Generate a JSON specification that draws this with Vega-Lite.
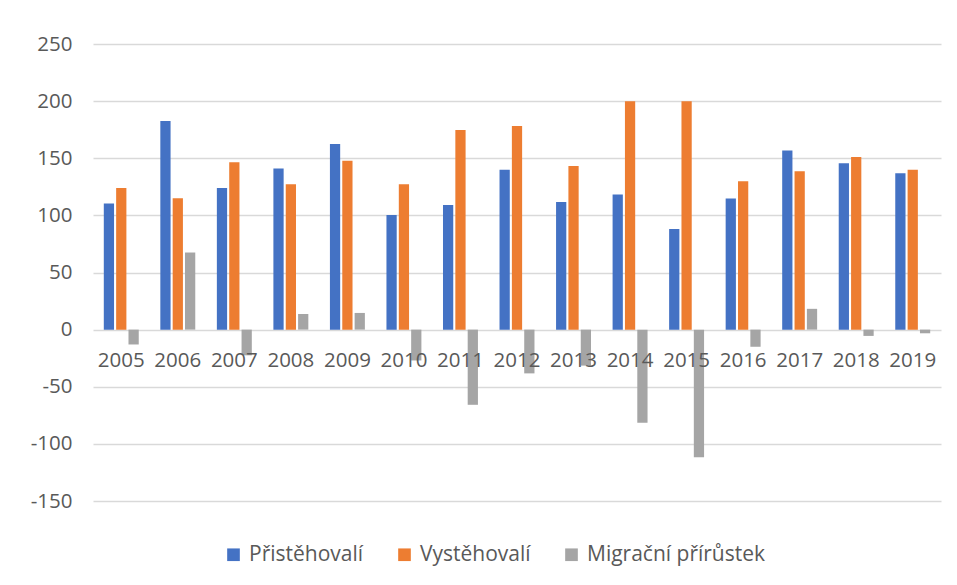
{
  "$schema": "https://vega.github.io/schema/vega-lite/v6.json",
  "width": 848,
  "height": 457,
  "autosize": {"type": "none"},
  "padding": {"left": 93, "top": 44, "right": 16, "bottom": 84},
  "background": "white",
  "config": {
    "font": "Open Sans",
    "view": {"stroke": null}
  },
  "data": {
    "values": [
      {"year": "2005", "series": "Přistěhovalí", "value": 110.5},
      {"year": "2005", "series": "Vystěhovalí", "value": 124},
      {"year": "2005", "series": "Migrační přírůstek", "value": -13},
      {"year": "2006", "series": "Přistěhovalí", "value": 182.5},
      {"year": "2006", "series": "Vystěhovalí", "value": 115},
      {"year": "2006", "series": "Migrační přírůstek", "value": 67.5},
      {"year": "2007", "series": "Přistěhovalí", "value": 124},
      {"year": "2007", "series": "Vystěhovalí", "value": 146.5},
      {"year": "2007", "series": "Migrační přírůstek", "value": -22.5},
      {"year": "2008", "series": "Přistěhovalí", "value": 141},
      {"year": "2008", "series": "Vystěhovalí", "value": 127.3},
      {"year": "2008", "series": "Migrační přírůstek", "value": 13.7},
      {"year": "2009", "series": "Přistěhovalí", "value": 162.4},
      {"year": "2009", "series": "Vystěhovalí", "value": 147.8},
      {"year": "2009", "series": "Migrační přírůstek", "value": 14.6},
      {"year": "2010", "series": "Přistěhovalí", "value": 100.3},
      {"year": "2010", "series": "Vystěhovalí", "value": 127.3},
      {"year": "2010", "series": "Migrační přírůstek", "value": -27},
      {"year": "2011", "series": "Přistěhovalí", "value": 109},
      {"year": "2011", "series": "Vystěhovalí", "value": 174.8},
      {"year": "2011", "series": "Migrační přírůstek", "value": -65.8},
      {"year": "2012", "series": "Přistěhovalí", "value": 140},
      {"year": "2012", "series": "Vystěhovalí", "value": 178.3},
      {"year": "2012", "series": "Migrační přírůstek", "value": -38.3},
      {"year": "2013", "series": "Přistěhovalí", "value": 111.8},
      {"year": "2013", "series": "Vystěhovalí", "value": 143.3},
      {"year": "2013", "series": "Migrační přírůstek", "value": -31.5},
      {"year": "2014", "series": "Přistěhovalí", "value": 118.3},
      {"year": "2014", "series": "Vystěhovalí", "value": 199.8},
      {"year": "2014", "series": "Migrační přírůstek", "value": -81.5},
      {"year": "2015", "series": "Přistěhovalí", "value": 88},
      {"year": "2015", "series": "Vystěhovalí", "value": 199.8},
      {"year": "2015", "series": "Migrační přírůstek", "value": -111.8},
      {"year": "2016", "series": "Přistěhovalí", "value": 114.8},
      {"year": "2016", "series": "Vystěhovalí", "value": 129.8},
      {"year": "2016", "series": "Migrační přírůstek", "value": -15},
      {"year": "2017", "series": "Přistěhovalí", "value": 156.8},
      {"year": "2017", "series": "Vystěhovalí", "value": 138.6},
      {"year": "2017", "series": "Migrační přírůstek", "value": 18.2},
      {"year": "2018", "series": "Přistěhovalí", "value": 145.7},
      {"year": "2018", "series": "Vystěhovalí", "value": 151.2},
      {"year": "2018", "series": "Migrační přírůstek", "value": -5.5},
      {"year": "2019", "series": "Přistěhovalí", "value": 136.8},
      {"year": "2019", "series": "Vystěhovalí", "value": 140},
      {"year": "2019", "series": "Migrační přírůstek", "value": -3.2}
    ]
  },
  "mark": {"type": "bar"},
  "encoding": {
    "x": {
      "field": "year",
      "type": "nominal",
      "title": null,
      "scale": {"paddingInner": 0.36, "paddingOuter": 0.18},
      "axis": {
        "orient": "bottom",
        "offset": -171,
        "domain": false,
        "ticks": false,
        "labelAngle": 0,
        "labelFontSize": 20.5,
        "labelColor": "#595959",
        "labelPadding": 20,
        "zindex": 1
      }
    },
    "xOffset": {
      "field": "series",
      "type": "nominal",
      "sort": ["Přistěhovalí", "Vystěhovalí", "Migrační přírůstek"],
      "scale": {"paddingInner": 0.17, "paddingOuter": 0.05}
    },
    "y": {
      "field": "value",
      "type": "quantitative",
      "title": null,
      "scale": {"domain": [-150, 250], "nice": false, "zero": true},
      "axis": {
        "values": [-150, -100, -50, 0, 50, 100, 150, 200, 250],
        "labelExpr": "replace(datum.label, '\u2212', '-')",
        "domain": false,
        "ticks": false,
        "grid": true,
        "gridColor": "#d9d9d9",
        "gridWidth": 1.5,
        "labelFontSize": 20.5,
        "labelColor": "#595959",
        "labelPadding": 21
      }
    },
    "color": {
      "field": "series",
      "type": "nominal",
      "title": null,
      "scale": {
        "domain": ["Přistěhovalí", "Vystěhovalí", "Migrační přírůstek"],
        "range": ["#4472C4", "#ED7D31", "#A5A5A5"]
      },
      "legend": {
        "orient": "none",
        "direction": "horizontal",
        "legendX": 130,
        "legendY": 500,
        "symbolType": "square",
        "symbolSize": 160,
        "symbolStrokeWidth": 0,
        "labelFontSize": 21,
        "labelLimit": 400,
        "labelColor": "#595959",
        "columnPadding": 30,
        "labelOffset": 5
      }
    }
  }
}
